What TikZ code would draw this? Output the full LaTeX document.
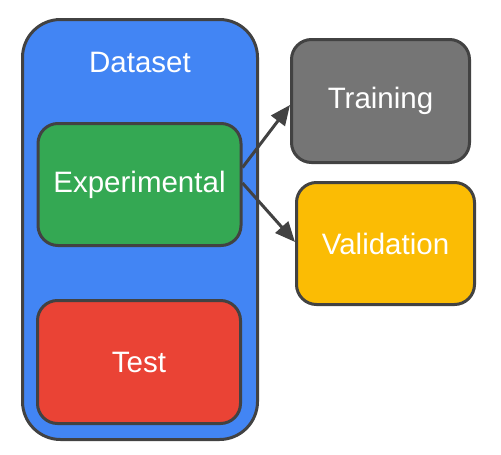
\documentclass[tikz,border=0pt]{standalone}
\usepackage{fontspec}
\setmainfont{Liberation Sans}
\usetikzlibrary{arrows.meta}
\definecolor{dsblue}{HTML}{4285F4}
\definecolor{expgreen}{HTML}{34A853}
\definecolor{testred}{HTML}{EA4335}
\definecolor{valyellow}{HTML}{FBBC04}
\definecolor{traingray}{HTML}{757575}
\definecolor{edgegray}{HTML}{424242}
\tikzset{
  box/.style={draw=edgegray,line width=3pt,rounded corners=20pt,text=white,font=\fontsize{29.5}{33}\selectfont},
  link/.style={edgegray,line width=3pt,-{Triangle[length=20pt,width=17pt]}}
}
\begin{document}
\begin{tikzpicture}[x=1pt,y=-1pt]
\useasboundingbox (0,0) rectangle (501,455);
\node[box,fill=dsblue,rounded corners=38pt,minimum width=235pt,minimum height=420pt](ds) at (140,229.5){};
\node[text=white,font=\fontsize{29.5}{33}\selectfont](dslabel) at (140,62){Dataset};
\node[box,fill=expgreen,minimum width=203pt,minimum height=122pt](exp) at (139.5,184.5){Experimental};
\node[box,fill=testred,minimum width=203pt,minimum height=123pt](test) at (139,362){Test};
\node[box,fill=traingray,minimum width=178pt,minimum height=123pt](train) at (380.5,101){Training};
\node[box,fill=valyellow,minimum width=178pt,minimum height=122pt](val) at (385.5,243.5){Validation};
\draw[link]([yshift=17pt]exp.east) -- ([yshift=-4pt]train.west);
\draw[link]([yshift=1.5pt]exp.east) -- ([yshift=1.5pt]val.west);
\end{tikzpicture}
\end{document}
